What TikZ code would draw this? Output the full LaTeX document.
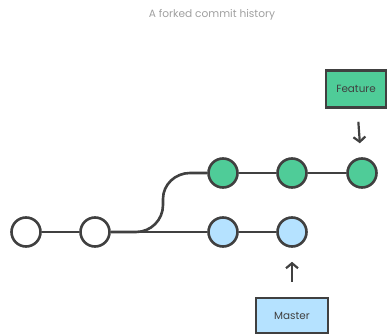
\documentclass[tikz,border=0pt]{standalone}
\usepackage{fontspec}
\setmainfont{Poppins}
\usetikzlibrary{arrows.meta}
\definecolor{ink}{HTML}{404040}
\definecolor{featgreen}{HTML}{4FCC98}
\definecolor{mastblue}{HTML}{B5E2FF}
\definecolor{titlegray}{HTML}{A0A0A0}
\tikzset{
  commit/.style={circle, draw=ink, line width=2.6pt, minimum size=29pt, inner sep=0pt},
  plain/.style={commit, fill=white},
  feat/.style={commit, fill=featgreen},
  mast/.style={commit, fill=mastblue},
  branchbox/.style={draw=ink, line width=2.6pt, inner sep=0pt, font=\fontsize{10.4}{12}\selectfont, text=ink},
  edge/.style={draw=ink, line width=2.6pt},
  pointer/.style={draw=ink, line width=2.2pt, -{Straight Barb[length=5pt,width=12pt,line width=2.2pt]}},
}
\begin{document}
\begin{tikzpicture}[x=1pt, y=-1pt]
  \useasboundingbox (0,0) rectangle (391,334);
  \node[text=titlegray, font=\fontsize{10.6}{12}\selectfont] (title) at (212,15) {A forked commit history};

  % commits
  \node[plain] (c1) at (26,232) {};
  \node[plain] (c2) at (95,232) {};
  \node[mast]  (m1) at (223,232) {};
  \node[mast]  (m2) at (292,232) {};
  \node[feat]  (f1) at (223,173) {};
  \node[feat]  (f2) at (292,173) {};
  \node[feat]  (f3) at (362,173) {};

  % branch labels
  \node[branchbox, fill=featgreen, minimum width=60pt, minimum height=37pt] (feature) at (356,89) {Feature};
  \node[branchbox, fill=mastblue, minimum width=72pt, minimum height=35pt] (master) at (292,315.5) {Master};

  % history lines
  \draw[edge] (c1) -- (c2);
  \draw[edge] (c2) -- (m1);
  \draw[edge] (m1) -- (m2);
  \draw[edge] (c2.east) -- (136,232) to[out=0,in=-90] (163,205) -- (163,199) to[out=90,in=180] (190,173) -- (f1.west);
  \draw[edge] (f1) -- (f2);
  \draw[edge] (f2) -- (f3);

  % branch pointers
  \draw[pointer, shorten <=13pt, shorten >=14pt] (feature) -- (f3);
  \draw[pointer, shorten <=15pt, shorten >=14pt] (master) -- (m2);
\end{tikzpicture}
\end{document}
